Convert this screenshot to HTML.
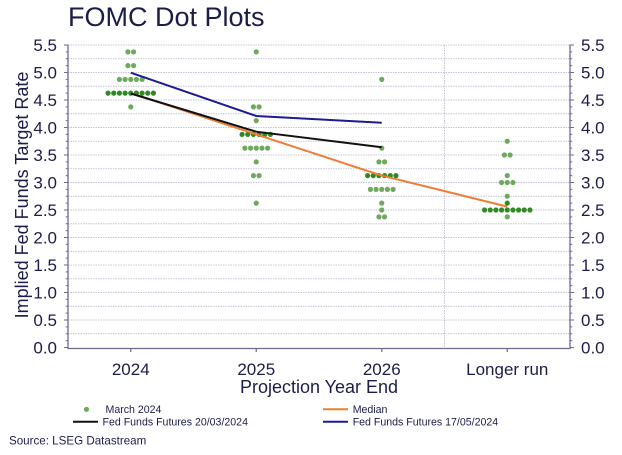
<!DOCTYPE html>
<html><head><meta charset="utf-8"><style>
html,body{margin:0;padding:0;background:#fff;}
svg{display:block;}
text{font-family:"Liberation Sans",sans-serif;fill:#1c1c4a;}
</style></head><body>
<svg width="622" height="455" viewBox="0 0 622 455" xmlns="http://www.w3.org/2000/svg">
<rect width="622" height="455" fill="#fff"/>
<text x="68" y="26" font-size="27">FOMC Dot Plots</text>

<!-- gridlines -->
<path d="M68,333.75H570M68,320H570M68,306.25H570M68,292.5H570M68,278.75H570M68,265H570M68,251.25H570M68,237.5H570M68,223.75H570M68,210H570M68,196.25H570M68,182.5H570M68,168.75H570M68,155H570M68,141.25H570M68,127.5H570M68,113.75H570M68,100H570M68,86.25H570M68,72.5H570M68,58.75H570M68,45H570" stroke="#c4c4d6" stroke-width="1" stroke-dasharray="1.5 1" fill="none"/>
<path d="M444.5,45V348" stroke="#c4c4d6" stroke-width="1" stroke-dasharray="1.5 1"/>

<!-- axes -->
<path d="M68,44.5V348.5H570V44.5" stroke="#6a6a92" stroke-width="1.3" fill="none"/>
<path d="M67,348V44" stroke="#6a6a92" stroke-width="2.5" stroke-dasharray="1 5.875" fill="none"/>
<path d="M66,348V44" stroke="#6a6a92" stroke-width="4" stroke-dasharray="1 26.5" fill="none"/>
<path d="M571,348V44" stroke="#6a6a92" stroke-width="2.5" stroke-dasharray="1 5.875" fill="none"/>
<path d="M572,348V44" stroke="#6a6a92" stroke-width="4" stroke-dasharray="1 26.5" fill="none"/>
<path d="M130.75,348V352M256.25,348V352M381.75,348V352M507.25,348V352" stroke="#6a6a92" stroke-width="1.2"/>

<!-- left tick labels -->
<g font-size="17" text-anchor="end">
<text x="57" y="353.5">0.0</text><text x="57" y="326">0.5</text><text x="57" y="298.5">1.0</text><text x="57" y="271">1.5</text><text x="57" y="243.5">2.0</text><text x="57" y="216">2.5</text><text x="57" y="188.5">3.0</text><text x="57" y="161">3.5</text><text x="57" y="133.5">4.0</text><text x="57" y="106">4.5</text><text x="57" y="78.5">5.0</text><text x="57" y="51">5.5</text>
</g>
<g font-size="17">
<text x="581" y="353.5">0.0</text><text x="581" y="326">0.5</text><text x="581" y="298.5">1.0</text><text x="581" y="271">1.5</text><text x="581" y="243.5">2.0</text><text x="581" y="216">2.5</text><text x="581" y="188.5">3.0</text><text x="581" y="161">3.5</text><text x="581" y="133.5">4.0</text><text x="581" y="106">4.5</text><text x="581" y="78.5">5.0</text><text x="581" y="51">5.5</text>
</g>

<text transform="translate(28,195) rotate(-90)" font-size="18" text-anchor="middle">Implied Fed Funds Target Rate</text>

<g font-size="17" text-anchor="middle">
<text x="130.75" y="375">2024</text><text x="256.25" y="375">2025</text><text x="381.75" y="375">2026</text><text x="507.25" y="375">Longer run</text>
</g>
<text x="319" y="393" font-size="18" text-anchor="middle">Projection Year End</text>

<!-- dots light -->
<g fill="#6eaa5e">
<circle cx="127.92" cy="51.88" r="2.6"/><circle cx="133.58" cy="51.88" r="2.6"/>
<circle cx="127.92" cy="65.63" r="2.6"/><circle cx="133.58" cy="65.63" r="2.6"/>
<circle cx="119.41" cy="79.38" r="2.6"/><circle cx="125.08" cy="79.38" r="2.6"/><circle cx="130.75" cy="79.38" r="2.6"/><circle cx="136.42" cy="79.38" r="2.6"/><circle cx="142.09" cy="79.38" r="2.6"/>
<circle cx="130.75" cy="106.88" r="2.6"/>

<circle cx="256.25" cy="51.88" r="2.6"/>
<circle cx="253.42" cy="106.88" r="2.6"/><circle cx="259.08" cy="106.88" r="2.6"/>
<circle cx="256.25" cy="120.63" r="2.6"/>
<circle cx="244.91" cy="148.13" r="2.6"/><circle cx="250.58" cy="148.13" r="2.6"/><circle cx="256.25" cy="148.13" r="2.6"/><circle cx="261.92" cy="148.13" r="2.6"/><circle cx="267.59" cy="148.13" r="2.6"/>
<circle cx="256.25" cy="161.88" r="2.6"/>
<circle cx="253.42" cy="175.63" r="2.6"/><circle cx="259.08" cy="175.63" r="2.6"/>
<circle cx="256.25" cy="203.13" r="2.6"/>

<circle cx="381.75" cy="79.38" r="2.6"/>
<circle cx="381.75" cy="148.13" r="2.6"/>
<circle cx="378.92" cy="161.88" r="2.6"/><circle cx="384.58" cy="161.88" r="2.6"/>
<circle cx="370.41" cy="189.38" r="2.6"/><circle cx="376.08" cy="189.38" r="2.6"/><circle cx="381.75" cy="189.38" r="2.6"/><circle cx="387.42" cy="189.38" r="2.6"/><circle cx="393.09" cy="189.38" r="2.6"/>
<circle cx="381.75" cy="203.13" r="2.6"/>
<circle cx="381.75" cy="210" r="2.6"/>
<circle cx="378.92" cy="216.88" r="2.6"/><circle cx="384.58" cy="216.88" r="2.6"/>

<circle cx="507.25" cy="141.25" r="2.6"/>
<circle cx="504.42" cy="155" r="2.6"/><circle cx="510.08" cy="155" r="2.6"/>
<circle cx="507.25" cy="175.63" r="2.6"/>
<circle cx="501.58" cy="182.5" r="2.6"/><circle cx="507.25" cy="182.5" r="2.6"/><circle cx="512.92" cy="182.5" r="2.6"/>
<circle cx="507.25" cy="196.25" r="2.6"/>
<circle cx="507.25" cy="216.88" r="2.6"/>
</g>
<!-- dots dark -->
<g fill="#2f8a24">
<circle cx="108.07" cy="93.13" r="2.6"/><circle cx="113.74" cy="93.13" r="2.6"/><circle cx="119.41" cy="93.13" r="2.6"/><circle cx="125.08" cy="93.13" r="2.6"/><circle cx="130.75" cy="93.13" r="2.6"/><circle cx="136.42" cy="93.13" r="2.6"/><circle cx="142.09" cy="93.13" r="2.6"/><circle cx="147.76" cy="93.13" r="2.6"/><circle cx="153.43" cy="93.13" r="2.6"/>
<circle cx="242.08" cy="134.38" r="2.6"/><circle cx="247.75" cy="134.38" r="2.6"/><circle cx="253.42" cy="134.38" r="2.6"/><circle cx="259.08" cy="134.38" r="2.6"/><circle cx="264.75" cy="134.38" r="2.6"/><circle cx="270.43" cy="134.38" r="2.6"/>
<circle cx="367.58" cy="175.63" r="2.6"/><circle cx="373.25" cy="175.63" r="2.6"/><circle cx="378.92" cy="175.63" r="2.6"/><circle cx="384.58" cy="175.63" r="2.6"/><circle cx="390.25" cy="175.63" r="2.6"/><circle cx="395.93" cy="175.63" r="2.6"/>
<circle cx="507.25" cy="203.13" r="2.6"/>
<circle cx="484.57" cy="210" r="2.6"/><circle cx="490.24" cy="210" r="2.6"/><circle cx="495.91" cy="210" r="2.6"/><circle cx="501.58" cy="210" r="2.6"/><circle cx="507.25" cy="210" r="2.6"/><circle cx="512.92" cy="210" r="2.6"/><circle cx="518.59" cy="210" r="2.6"/><circle cx="524.26" cy="210" r="2.6"/><circle cx="529.93" cy="210" r="2.6"/>
</g>

<!-- lines -->
<polyline points="130.75,93.1 256.25,134.4 381.75,175.6 507.25,206.6" fill="none" stroke="#f07b35" stroke-width="2"/>
<polyline points="130.75,93.5 256.25,131.7 381.75,147.3" fill="none" stroke="#111" stroke-width="2"/>
<polyline points="130.75,72.7 256.25,116 381.75,122.7" fill="none" stroke="#1c1c8e" stroke-width="2"/>

<!-- legend -->
<circle cx="86.5" cy="409.3" r="2.6" fill="#6eaa5e"/>
<text x="105.5" y="413" font-size="10.6">March 2024</text>
<path d="M73,421.7H98" stroke="#111" stroke-width="2"/>
<text x="102.5" y="425.5" font-size="10.6">Fed Funds Futures 20/03/2024</text>
<path d="M323,409.3H348" stroke="#f07b35" stroke-width="2"/>
<text x="352.7" y="413" font-size="10.6">Median</text>
<path d="M323,421.7H348" stroke="#1c1c8e" stroke-width="2"/>
<text x="352.7" y="425.5" font-size="10.6">Fed Funds Futures 17/05/2024</text>

<text x="9" y="444.5" font-size="11.6">Source: LSEG Datastream</text>
</svg>
</body></html>
